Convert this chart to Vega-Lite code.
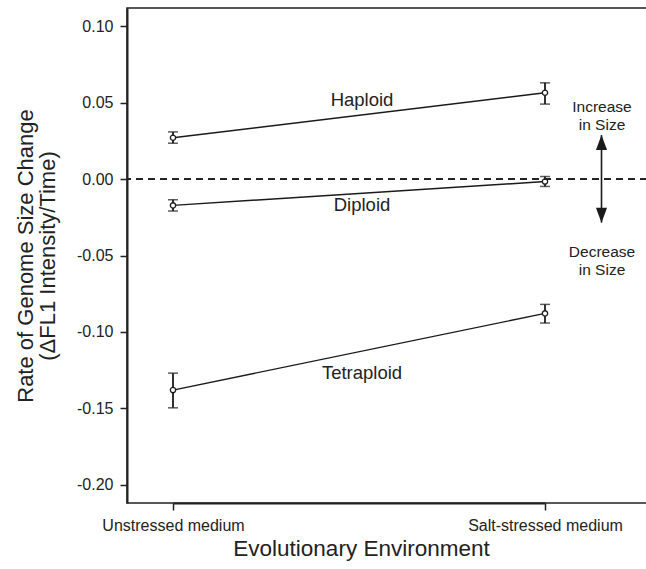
{
  "$schema": "https://vega.github.io/schema/vega-lite/v6.json",
  "width": 520,
  "height": 495,
  "autosize": {"type": "none"},
  "padding": {"left": 127, "top": 8, "right": 0, "bottom": 66},
  "background": "white",
  "config": {
    "view": {"stroke": "#222", "strokeWidth": 1.5},
    "font": "Liberation Sans",
    "axis": {
      "domainColor": "#222", "domainWidth": 2, "tickColor": "#222", "tickWidth": 1.5, "tickSize": 7,
      "labelColor": "#222", "labelFontSize": 16, "labelPadding": 7, "titleColor": "#222",
      "titleFontWeight": "normal", "grid": false
    }
  },
  "datasets": {
    "rates": [
      {"ploidy": "Haploid", "env": "Unstressed medium", "rate": 0.0271, "lo": 0.0235, "hi": 0.0309},
      {"ploidy": "Haploid", "env": "Salt-stressed medium", "rate": 0.0565, "lo": 0.0491, "hi": 0.063},
      {"ploidy": "Diploid", "env": "Unstressed medium", "rate": -0.0172, "lo": -0.0209, "hi": -0.0135},
      {"ploidy": "Diploid", "env": "Salt-stressed medium", "rate": -0.0016, "lo": -0.0048, "hi": 0.0017},
      {"ploidy": "Tetraploid", "env": "Unstressed medium", "rate": -0.1381, "lo": -0.1497, "hi": -0.127},
      {"ploidy": "Tetraploid", "env": "Salt-stressed medium", "rate": -0.0879, "lo": -0.0942, "hi": -0.082}
    ],
    "labels": [
      {"label": "Haploid", "env": "Unstressed medium", "pos": 0.0517},
      {"label": "Diploid", "env": "Unstressed medium", "pos": -0.0168},
      {"label": "Tetraploid", "env": "Unstressed medium", "pos": -0.1268}
    ],
    "notes": [
      {"note": "Increase\nin Size", "env": "Salt-stressed medium", "pos": 0.0472},
      {"note": "Decrease\nin Size", "env": "Salt-stressed medium", "pos": -0.0478}
    ],
    "arrow": [
      {"env": "Salt-stressed medium", "top": 0.0288, "bottom": -0.0285}
    ]
  },
  "encoding": {
    "x": {
      "field": "env", "type": "nominal",
      "sort": ["Unstressed medium", "Salt-stressed medium"],
      "scale": {"type": "point", "range": [46, 418], "padding": 0},
      "axis": {
        "labelAngle": 0, "title": "Evolutionary Environment", "titleFontSize": 22.5,
        "titleX": 234, "titleY": 52, "titleBaseline": "alphabetic", "titleAlign": "center"
      }
    }
  },
  "layer": [
    {
      "data": {"name": "rates"},
      "mark": {"type": "line", "color": "#1a1a1a", "strokeWidth": 1.4},
      "encoding": {
        "y": {
          "field": "rate", "type": "quantitative",
          "scale": {"domain": [-0.212, 0.112], "nice": false, "zero": false},
          "axis": {
            "values": [0.1, 0.05, 0, -0.05, -0.1, -0.15, -0.2],
            "labelExpr": "replace(format(datum.value, '.2f'), '\u2212', '-')",
            "title": ["Rate of Genome Size Change", "(\u0394FL1 Intensity/Time)"],
            "titleFontSize": 22, "titleLineHeight": 22, "titleAngle": 270,
            "titleX": -89.5, "titleY": 247.5, "titleBaseline": "bottom", "titleAlign": "center"
          }
        },
        "detail": {"field": "ploidy"}
      }
    },
    {
      "data": {"name": "rates"},
      "mark": {"type": "rule", "color": "#1a1a1a", "strokeWidth": 1.8},
      "encoding": {
        "y": {"field": "lo", "type": "quantitative", "scale": {"domain": [-0.212, 0.112], "nice": false, "zero": false}},
        "y2": {"field": "hi"}
      }
    },
    {
      "data": {"name": "rates"},
      "mark": {"type": "tick", "color": "#1a1a1a", "size": 10, "thickness": 1.5},
      "encoding": {
        "y": {"field": "lo", "type": "quantitative", "scale": {"domain": [-0.212, 0.112], "nice": false, "zero": false}}
      }
    },
    {
      "data": {"name": "rates"},
      "mark": {"type": "tick", "color": "#1a1a1a", "size": 10, "thickness": 1.5},
      "encoding": {
        "y": {"field": "hi", "type": "quantitative", "scale": {"domain": [-0.212, 0.112], "nice": false, "zero": false}}
      }
    },
    {
      "data": {"name": "rates"},
      "mark": {"type": "point", "shape": "circle", "filled": true, "fill": "white", "stroke": "#1a1a1a", "strokeWidth": 1.3, "size": 28, "opacity": 1},
      "encoding": {
        "y": {"field": "rate", "type": "quantitative", "scale": {"domain": [-0.212, 0.112], "nice": false, "zero": false}}
      }
    },
    {
      "data": {"name": "rates"},
      "mark": {"type": "rule", "color": "#222", "strokeWidth": 1.2, "strokeDash": [7, 5]},
      "encoding": {
        "x": null,
        "y": {"datum": 0, "type": "quantitative", "scale": {"domain": [-0.212, 0.112], "nice": false, "zero": false}}
      }
    },
    {
      "data": {"name": "labels"},
      "mark": {"type": "text", "dx": 189, "fontSize": 18.5, "align": "center", "baseline": "middle", "color": "#222"},
      "encoding": {
        "y": {"field": "pos", "type": "quantitative", "scale": {"domain": [-0.212, 0.112], "nice": false, "zero": false}},
        "text": {"field": "label"}
      }
    },
    {
      "data": {"name": "notes"},
      "mark": {"type": "text", "dx": 57, "fontSize": 15.5, "lineHeight": 18, "lineBreak": "\n", "align": "center", "baseline": "middle", "color": "#222"},
      "encoding": {
        "y": {"field": "pos", "type": "quantitative", "scale": {"domain": [-0.212, 0.112], "nice": false, "zero": false}},
        "text": {"field": "note"}
      }
    },
    {
      "data": {"name": "arrow"},
      "mark": {"type": "rule", "color": "#1a1a1a", "strokeWidth": 1.6, "xOffset": 56.5},
      "encoding": {
        "y": {"field": "top", "type": "quantitative", "scale": {"domain": [-0.212, 0.112], "nice": false, "zero": false}},
        "y2": {"field": "bottom"}
      }
    },
    {
      "data": {"name": "arrow"},
      "mark": {"type": "point", "shape": "M0,0L0.37,1L-0.37,1Z", "filled": true, "color": "#1a1a1a", "size": 900, "opacity": 1, "xOffset": 56.5},
      "encoding": {
        "y": {"field": "top", "type": "quantitative", "scale": {"domain": [-0.212, 0.112], "nice": false, "zero": false}}
      }
    },
    {
      "data": {"name": "arrow"},
      "mark": {"type": "point", "shape": "M0,0L0.37,-1L-0.37,-1Z", "filled": true, "color": "#1a1a1a", "size": 900, "opacity": 1, "xOffset": 56.5},
      "encoding": {
        "y": {"field": "bottom", "type": "quantitative", "scale": {"domain": [-0.212, 0.112], "nice": false, "zero": false}}
      }
    }
  ]
}
